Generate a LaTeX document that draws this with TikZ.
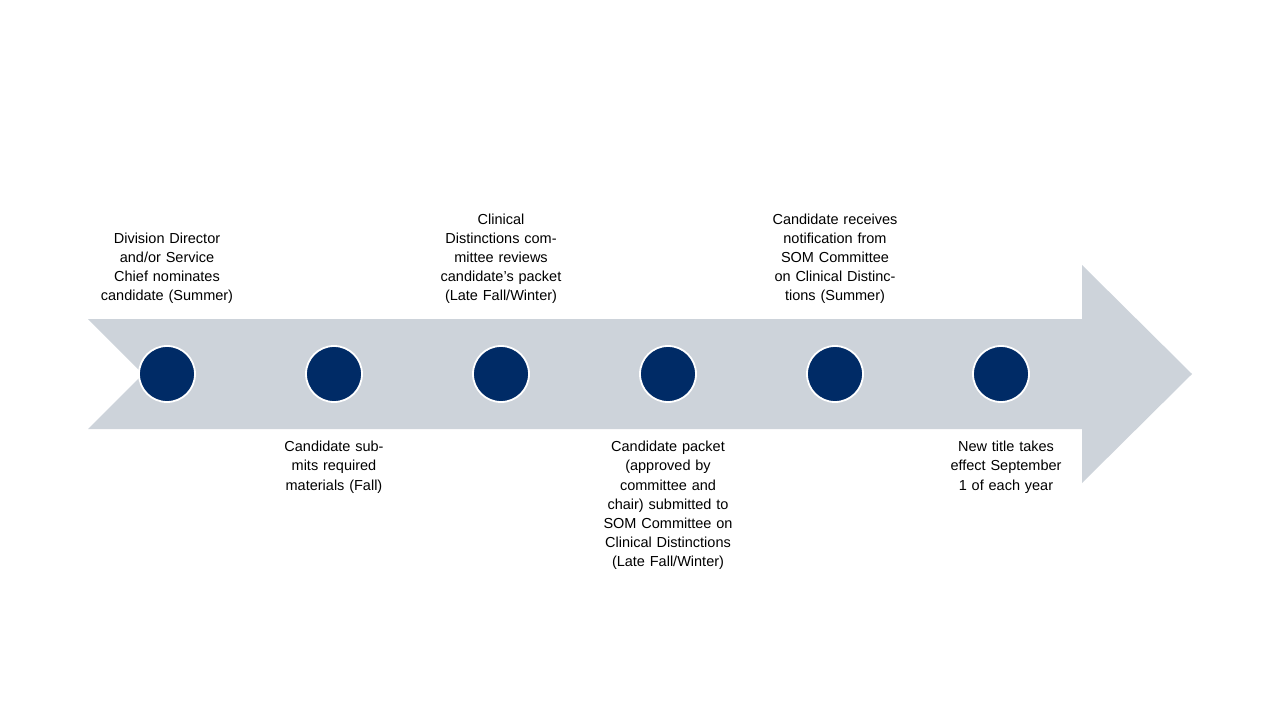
\documentclass[tikz,border=0pt]{standalone}
\usepackage{fontspec}
\setmainfont{Liberation Sans}
\begin{document}
\begin{tikzpicture}[x=1pt,y=-1pt,
  dot/.style={circle,fill={rgb,255:red,0;green,43;blue,102},draw=white,line width=1.8pt,minimum size=56pt,inner sep=0pt},
  lbl/.style={text width=140pt,align=center,font=\fontsize{14.5}{19.2}\selectfont,inner sep=0pt}]
\useasboundingbox (0,0) rectangle (1280,720);
\fill[fill={rgb,255:red,205;green,211;blue,218}] (88,319) -- (1082,319) -- (1082,265) -- (1192,374) -- (1082,483) -- (1082,429) -- (88,429) -- (143,374) -- cycle;
\foreach \i/\x in {1/167,2/334,3/501,4/668,5/835,6/1001} \node[dot] (d\i) at (\x,374) {};
\node[lbl,anchor=south] (t1) at (167,304) {Division Director and/or Service Chief nominates candidate (Summer)};
\node[lbl,anchor=south] (t3) at (501,304) {Clinical\\ Distinctions committee reviews candidate’s packet (Late Fall/Winter)};
\node[lbl,anchor=south] (t5) at (835,304) {Candidate receives notification from SOM Committee on Clinical Distinctions (Summer)};
\node[lbl,anchor=north] (t2) at (334,441) {Candidate submits required materials (Fall)};
\node[lbl,anchor=north] (t4) at (668,441) {Candidate packet (approved by committee and chair) submitted to SOM Committee on Clinical Distinctions (Late Fall/Winter)};
\node[lbl,anchor=north] (t6) at (1006,441) {New title takes effect September 1 of each year};
\end{tikzpicture}
\end{document}
